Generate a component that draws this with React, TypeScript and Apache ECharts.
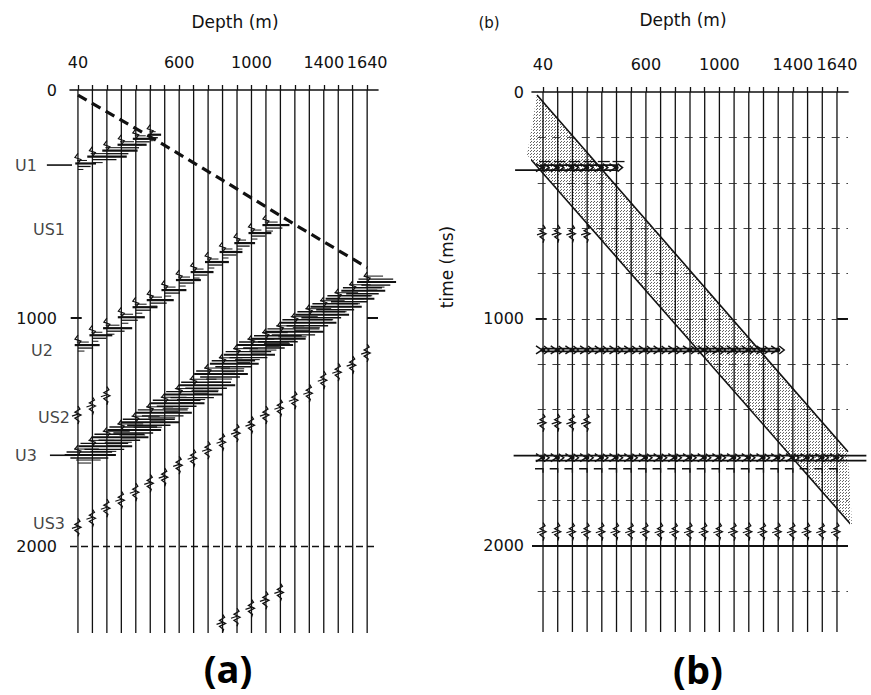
import React, { useEffect, useRef } from "react";
import * as echarts from "echarts";

// ---------- shared axes ----------
const traceDepths = [40, 120, 200, 280, 360, 440, 520, 600, 680, 760, 840, 920, 1000, 1080, 1160, 1240, 1320, 1400, 1480, 1560, 1640];
const depthTickLabels = [40, 600, 1000, 1400, 1640];
const timeTickLabels = [0, 1000, 2000];
const timeMax = 2380;

// ---------- panel (a) ----------
const firstBreakDepths = [40, 440, 840, 1240, 1640];
const firstBreakTimes = [22, 205, 395, 590, 778];
const u1Times = [322, 292, 266, 240, 214, 196];
const u1Amps = [100, 190, 170, 140, 110, 60];
const u2Times = [1118, 1075, 1044, 996, 952, 921, 877, 833, 798, 754, 710, 671, 627, 592];
const u2Amps = [120, 110, 140, 130, 120, 130, 120, 120, 110, 115, 110, 100, 110, 130];
const u3Times = [1600, 1562, 1522, 1490, 1456, 1415, 1373, 1335, 1294, 1245, 1200, 1160, 1118, 1090, 1060, 1020, 985, 950, 915, 880, 842];
const u3Amps = [210, 220, 230, 220, 240, 230, 220, 240, 230, 220, 200, 210, 230, 220, 240, 230, 220, 210, 200, 180, 160];
const m1Times = [1917, 1877, 1833, 1798, 1763, 1724, 1697, 1645, 1614, 1579, 1544, 1504, 1469, 1425, 1395, 1360, 1329, 1272, 1237, 1206, 1153];
const m2Times = [1425, 1385, 1340];
const m3Traces = [10, 11, 12, 13, 14];
const m3Times = [2338, 2311, 2272, 2237, 2202];
const unitNames = ["U1", "US1", "U2", "US2", "U3", "US3"];
const unitTimes = [329, 610, 1140, 1434, 1601, 1899];
const unitArrowStarts = [-132, -115];
const unitArrowEnds = [7, 23];
const unitArrowTimes = [329, 1601];

// ---------- panel (b) ----------
const bHorizonTimes = [333, 1137, 1612];
const bHorizonTraceCount = [6, 17, 21];
const bLineStarts = [24, -112, 33, 33, -120, 0];
const bLineEnds = [448, 448, 1320, 1320, 1800, 1800];
const bLineTimes = [322, 344, 1131, 1143, 1603, 1625];
const bZigTimes = [625, 1458, 1938];
const bZigTraceCount = [4, 4, 21];
const bandUpperDepths = [7, 1700];
const bandUpperTimes = [13, 1586];
const bandLowerDepths = [-47, 1722];
const bandLowerTimes = [278, 1912];
const bGridTimes = [200, 400, 600, 800, 1000, 1200, 1400, 1600, 1800, 2200];

const K = "#111";
const FONT = '"DejaVu Sans", "Open Sans", sans-serif';

function traceRender(_p: any, api: any) {
  const d = api.value(0);
  const a = api.coord([d, 0]);
  const b = api.coord([d, timeMax]);
  return { type: "line", shape: { x1: a[0], y1: a[1], x2: b[0], y2: b[1] }, style: { stroke: K, lineWidth: 1.3 } };
}

function hlineRender(_p: any, api: any) {
  const a = api.coord([api.value(0), api.value(2)]);
  const b = api.coord([api.value(1), api.value(2)]);
  return { type: "line", shape: { x1: a[0], y1: a[1], x2: b[0], y2: a[1] }, style: { stroke: K, lineWidth: api.value(3) } };
}

function barRender(_p: any, api: any) {
  const p = api.coord([api.value(0), api.value(1)]);
  const L = api.size([api.value(2), 0])[0];
  const dense = api.value(3) === 1;
  const spec = dense
    ? [[-6, -0.1, 0.55, 1], [-3, -0.3, 0.9, 1.4], [0, -0.35, 1, 2], [3, -0.2, 0.8, 1.4], [5, -0.05, 0.6, 1], [8, 0, 0.35, 1]]
    : [[-3, -0.05, 0.5, 1], [0, -0.15, 1, 2.2], [3, 0, 0.7, 1.3], [6, 0, 0.3, 1]];
  const x = p[0], y = p[1];
  const children: any[] = spec.map(([dy, s, e, w]) => ({
    type: "line",
    shape: { x1: x + s * L, y1: y + dy, x2: x + e * L, y2: y + dy },
    style: { stroke: K, lineWidth: w },
  }));
  children.push({
    type: "polyline",
    shape: { points: [[x, y - 10], [x - 3, y - 6], [x + 3, y - 4], [x, y]] },
    style: { stroke: K, fill: "none", lineWidth: 1.2 },
  });
  return { type: "group", children };
}

function zigRender(_p: any, api: any) {
  const p = api.coord([api.value(0), api.value(1)]);
  const x = p[0], y = p[1];
  return {
    type: "group",
    children: [
      {
        type: "polyline",
        shape: { points: [[x, y - 9], [x + 2, y - 6], [x - 3, y - 3], [x + 3, y], [x - 3, y + 3], [x + 1, y + 6], [x, y + 9]] },
        style: { stroke: K, fill: "none", lineWidth: 1.3 },
      },
      { type: "line", shape: { x1: x - 6, y1: y + 1, x2: x, y2: y - 1 }, style: { stroke: K, lineWidth: 1.2 } },
    ],
  };
}

function markRender(_p: any, api: any) {
  const p = api.coord([api.value(0), api.value(1)]);
  const kind = api.value(2);
  const x = p[0], y = p[1];
  const children: any[] = [
    { type: "polyline", shape: { points: [[x - 7, y - 4], [x - 1, y], [x - 7, y + 4]] }, style: { stroke: K, fill: "none", lineWidth: 1.5 } },
    { type: "polyline", shape: { points: [[x + 1, y - 4], [x + 6, y], [x + 1, y + 4]] }, style: { stroke: K, fill: "none", lineWidth: 1.5 } },
    { type: "circle", shape: { cx: x, cy: y, r: 2.2 }, style: { fill: K } },
  ];
  if (kind === 2) {
    children.push({ type: "polyline", shape: { points: [[x - 8, y + 11], [x, y + 11], [x, y + 15]] }, style: { stroke: K, fill: "none", lineWidth: 1.3 } });
  }
  if (kind === 0) {
    children.push({ type: "line", shape: { x1: x - 4, y1: y - 6, x2: x + 8, y2: y - 6 }, style: { stroke: K, lineWidth: 1.3 } });
  }
  return { type: "group", children };
}

function makeStipple() {
  const c = document.createElement("canvas");
  c.width = 3;
  c.height = 3;
  const g = c.getContext("2d");
  if (g) {
    g.fillStyle = "rgba(0,0,0,0.6)";
    g.fillRect(0, 0, 1, 1);
    g.fillRect(2, 1, 1, 1);
  }
  return c;
}

function bandRender(_p: any, api: any) {
  const pts = [
    api.coord([bandUpperDepths[0], bandUpperTimes[0]]),
    api.coord([bandUpperDepths[1], bandUpperTimes[1]]),
    api.coord([bandLowerDepths[1], bandLowerTimes[1]]),
    api.coord([bandLowerDepths[0], bandLowerTimes[0]]),
  ];
  return { type: "polygon", shape: { points: pts }, style: { fill: { image: makeStipple(), repeat: "repeat" }, stroke: "none" } };
}

const plain = (v: number) => String(v);

function xAxis(gridIndex: number, min: number) {
  return {
    gridIndex,
    type: "value",
    position: "top",
    min,
    max: 1700,
    axisLine: { show: true, onZero: false, lineStyle: { color: K, width: 1.6 } },
    axisTick: { show: true, customValues: traceDepths, length: 5, lineStyle: { color: K, width: 1.3 } },
    axisLabel: {
      customValues: depthTickLabels,
      formatter: plain,
      showMinLabel: true,
      showMaxLabel: true,
      hideOverlap: false,
      margin: 20,
      fontSize: 16,
      color: K,
      fontFamily: FONT,
    },
    splitLine: { show: false },
  };
}

function yAxis(gridIndex: number, side: string, labels: boolean, margin: number) {
  return {
    gridIndex,
    type: "value",
    position: side,
    inverse: true,
    min: 0,
    max: timeMax,
    interval: 200,
    axisLine: { show: false },
    axisTick: { show: true, customValues: [1000], inside: true, length: 11, lineStyle: { color: K, width: 2 } },
    axisLabel: {
      show: labels,
      customValues: timeTickLabels,
      formatter: plain,
      showMinLabel: true,
      showMaxLabel: true,
      margin,
      fontSize: 16,
      color: K,
      fontFamily: FONT,
    },
    splitLine: { show: false },
  };
}

export default function App() {
  const ref = useRef<HTMLDivElement>(null);
  useEffect(() => {
    if (!ref.current) return;
    const chart = echarts.init(ref.current, undefined, { renderer: "svg" });

    const aBars: number[][] = [];
    u1Times.forEach((t, i) => aBars.push([traceDepths[i], t, u1Amps[i], 0]));
    u2Times.forEach((t, i) => aBars.push([traceDepths[i], t, u2Amps[i], 0]));
    u3Times.forEach((t, i) => aBars.push([traceDepths[i], t, u3Amps[i], 1]));

    const aZigs: number[][] = [];
    m1Times.forEach((t, i) => aZigs.push([traceDepths[i], t]));
    m2Times.forEach((t, i) => aZigs.push([traceDepths[i], t]));
    m3Times.forEach((t, i) => aZigs.push([traceDepths[m3Traces[i]], t]));

    const aArrows = unitArrowTimes.map((t, i) => [unitArrowStarts[i], unitArrowEnds[i], t, 1.6]);
    const labelGaps = [33, 5, 17, 0, 33, 5];
    const unitData = unitNames.map((n, i) => ({ name: n, value: [-4, unitTimes[i]], label: { distance: labelGaps[i] } }));

    const bMarks: number[][] = [];
    bHorizonTimes.forEach((t, h) => {
      for (let i = 0; i < bHorizonTraceCount[h]; i++) bMarks.push([traceDepths[i], t, h]);
    });
    const bZigs: number[][] = [];
    bZigTimes.forEach((t, h) => {
      for (let i = 0; i < bZigTraceCount[h]; i++) bZigs.push([traceDepths[i], t]);
    });
    const bLines = bLineTimes.map((t, i) => [bLineStarts[i], bLineEnds[i], t, 1.8]);

    const option: any = {
      animation: false,
      backgroundColor: "#fff",
      grid: [
        { left: 70, top: 90, width: 308, height: 543 },
        { left: 532, top: 92, width: 316, height: 540 },
      ],
      xAxis: [xAxis(0, -4), xAxis(1, -20)],
      yAxis: [
        yAxis(0, "left", true, 13),
        yAxis(0, "right", false, 8),
        yAxis(1, "left", true, 8),
        yAxis(1, "right", false, 8),
      ],
      series: [
        // ---- panel (a)
        { type: "custom", xAxisIndex: 0, yAxisIndex: 0, renderItem: traceRender, data: traceDepths.map((d) => [d, 0]), z: 2 },
        {
          type: "line",
          xAxisIndex: 0,
          yAxisIndex: 0,
          data: firstBreakDepths.map((d, i) => [d, firstBreakTimes[i]]),
          symbol: "none",
          lineStyle: { color: K, width: 3.2, type: [10, 6] },
          z: 4,
          markLine: {
            silent: true,
            symbol: ["none", "none"],
            label: { show: false },
            lineStyle: { color: K, width: 1.3, type: [7, 4] },
            data: [{ yAxis: 2000 }],
          },
        },
        { type: "custom", xAxisIndex: 0, yAxisIndex: 0, renderItem: barRender, data: aBars, z: 3 },
        { type: "custom", xAxisIndex: 0, yAxisIndex: 0, renderItem: zigRender, data: aZigs, z: 3 },
        { type: "custom", xAxisIndex: 0, yAxisIndex: 0, renderItem: hlineRender, data: aArrows, z: 3 },
        {
          type: "scatter",
          xAxisIndex: 0,
          yAxisIndex: 0,
          symbolSize: 0,
          data: unitData,
          label: { show: true, position: "left", formatter: "{b}", fontSize: 16, color: K, fontFamily: FONT },
        },
        // ---- panel (b)
        {
          type: "custom",
          xAxisIndex: 1,
          yAxisIndex: 2,
          renderItem: bandRender,
          data: [[0, 0]],
          z: 1,
          markLine: {
            silent: true,
            symbol: ["none", "none"],
            label: { show: false },
            lineStyle: { color: "#222", width: 1.1, type: [8, 6.7], dashOffset: 8.7, opacity: 0.85 },
            data: bGridTimes.map((t) => ({ yAxis: t })),
          },
        },
        { type: "custom", xAxisIndex: 1, yAxisIndex: 2, renderItem: traceRender, data: traceDepths.map((d) => [d, 0]), z: 2 },
        {
          type: "line",
          xAxisIndex: 1,
          yAxisIndex: 2,
          clip: false,
          data: bandUpperDepths.map((d, i) => [d, bandUpperTimes[i]]),
          symbol: "none",
          lineStyle: { color: K, width: 1.6 },
          z: 4,
          markLine: {
            silent: true,
            symbol: ["none", "none"],
            label: { show: false },
            lineStyle: { color: K, width: 1.8, type: "solid" },
            data: [{ yAxis: 2000 }],
          },
        },
        {
          type: "line",
          xAxisIndex: 1,
          yAxisIndex: 2,
          clip: false,
          data: bandLowerDepths.map((d, i) => [d, bandLowerTimes[i]]),
          symbol: "none",
          lineStyle: { color: K, width: 1.6 },
          z: 4,
        },
        { type: "custom", xAxisIndex: 1, yAxisIndex: 2, renderItem: hlineRender, data: bLines, z: 3 },
        { type: "custom", xAxisIndex: 1, yAxisIndex: 2, renderItem: markRender, data: bMarks, z: 3 },
        { type: "custom", xAxisIndex: 1, yAxisIndex: 2, renderItem: zigRender, data: bZigs, z: 3 },
      ],
      graphic: [
        { type: "text", x: 235, y: 22, style: { text: "Depth (m)", fontSize: 17, fontFamily: FONT, fill: K, align: "center", verticalAlign: "middle" } },
        { type: "text", x: 683, y: 20, style: { text: "Depth (m)", fontSize: 17, fontFamily: FONT, fill: K, align: "center", verticalAlign: "middle" } },
        { type: "text", x: 489, y: 23, style: { text: "(b)", fontSize: 15, fontFamily: FONT, fill: K, align: "center", verticalAlign: "middle" } },
        { type: "text", x: 447, y: 267, rotation: Math.PI / 2, style: { text: "time (ms)", fontSize: 17, fontFamily: FONT, fill: K, align: "center", verticalAlign: "middle" } },
        { type: "text", x: 228, y: 668, style: { text: "(a)", fontSize: 38, fontWeight: "bold", fontFamily: '"Open Sans", "Noto Sans", sans-serif', fill: "#000", align: "center", verticalAlign: "middle" } },
        { type: "text", x: 698, y: 669, style: { text: "(b)", fontSize: 38, fontWeight: "bold", fontFamily: '"Open Sans", "Noto Sans", sans-serif', fill: "#000", align: "center", verticalAlign: "middle" } },
      ],
    };
    chart.setOption(option);
    return () => chart.dispose();
  }, []);
  return <div ref={ref} style={{ position: "fixed", left: 0, top: 0, width: 871, height: 695, background: "#fff" }} />;
}
